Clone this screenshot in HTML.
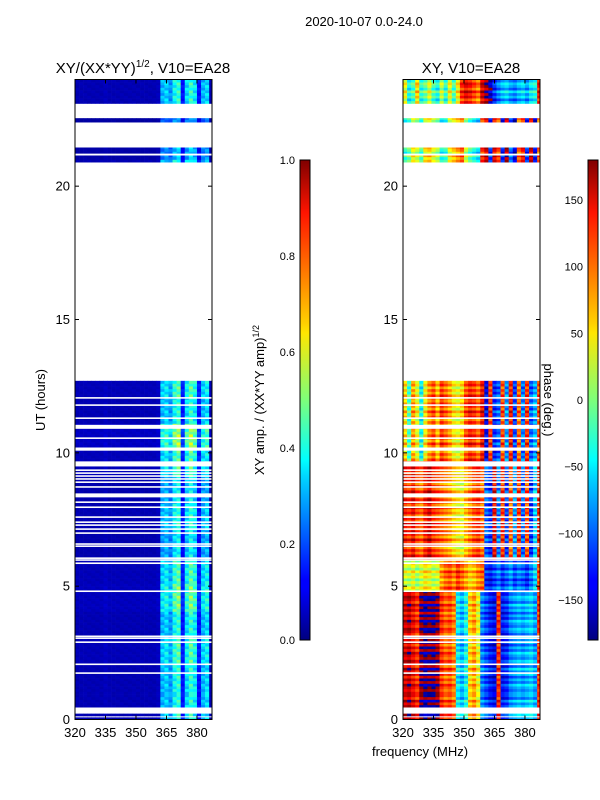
<!DOCTYPE html>
<html><head><meta charset="utf-8">
<style>
html,body{margin:0;padding:0;background:#fff;}
svg{display:block;font-family:"Liberation Sans","DejaVu Sans",sans-serif;}
</style></head>
<body>
<svg id="fig" width="600" height="800" viewBox="0 0 600 800" xmlns="http://www.w3.org/2000/svg">
<defs>
<linearGradient id="jet" x1="0" y1="1" x2="0" y2="0">
<stop offset="0" stop-color="#00007f"/><stop offset="0.11" stop-color="#0000ff"/>
<stop offset="0.125" stop-color="#0000ff"/><stop offset="0.34" stop-color="#00d5ff"/>
<stop offset="0.375" stop-color="#0ff"/><stop offset="0.5" stop-color="#7dff7a"/>
<stop offset="0.64" stop-color="#ffe600"/><stop offset="0.66" stop-color="#ffd000"/>
<stop offset="0.89" stop-color="#ff1400"/><stop offset="1" stop-color="#800000"/>
</linearGradient>
</defs>
<text x="364" y="26" font-size="13" text-anchor="middle">2020-10-07 0.0-24.0</text>
<text x="143" y="73" font-size="15" text-anchor="middle">XY/(XX*YY)<tspan font-size="10" dy="-6">1/2</tspan><tspan dy="6">, V10=EA28</tspan></text>
<text x="471" y="73" font-size="15" text-anchor="middle">XY, V10=EA28</text>
<g id="left"></g>
<g id="right"></g>
<g id="axes"></g>
<rect x="300" y="160" width="10" height="480" fill="url(#jet)" stroke="#000" stroke-width="1"/>
<rect x="588" y="160" width="10" height="480" fill="url(#jet)" stroke="#000" stroke-width="1"/>
<text transform="translate(264,400) rotate(-90)" font-size="13" text-anchor="middle">XY amp. / (XX*YY amp)<tspan font-size="9" dy="-5">1/2</tspan></text>
<text transform="translate(544,400) rotate(90)" font-size="13" text-anchor="middle">phase (deg.)</text>
<text transform="translate(45,400) rotate(-90)" font-size="13" text-anchor="middle">UT (hours)</text>
<text x="420" y="756" font-size="13" text-anchor="middle">frequency (MHz)</text>
</svg>
<script>
// ---- data ----
const freqs = [320,322,324,326,328,330,332,334,336,338,340,342,344,346,348,350,352,354,356,358,360,362,364,366,368,370,372,374,376,378,380,382,384,386];
const ampProfile = [0.05,0.05,0.05,0.05,0.05,0.05,0.05,0.06,0.05,0.05,0.05,0.05,0.05,0.05,0.05,0.05,0.05,0.05,0.05,0.05,0.06,0.3,0.33,0.27,0.38,0.42,0.14,0.34,0.42,0.36,0.14,0.3,0.34,0.05];
const hourBrightness = [1.0,1.0,1.1,1.0,1.2,1.1,0.9,1.0,0.9,1.1,1.3,1.0,1.1,1,1,1,1,1,1,1,1,0.8,0.7,1.0];
const segStart = [0.0,0.13,0.45,4.8,6.0,9.7,20.9,22.4,23.1];
const segEnd   = [0.08,0.22,4.8,6.0,9.7,12.7,21.45,22.55,24.0];
const phaseA = [150,160,140,120,175,-170,180,-175,170,120,100,110,90,-50,-70,-40,60,80,40,-90,-110,-130,-140,120,-130,-120,-90,-80,-70,-80,-70,-60,-80,120];
const phaseB = [30,20,40,10,30,50,40,20,30,80,100,110,90,120,100,80,60,70,90,100,-120,-130,-110,-90,-120,-100,-80,-110,-90,-100,-120,-90,-60,110];
const phaseC = [130,120,140,110,100,130,150,120,110,100,90,80,60,50,40,70,90,110,120,100,-100,-120,140,-90,120,-110,100,-80,120,-100,110,-120,-60,130];
const phaseD = [60,-20,80,40,-40,50,90,110,70,120,100,80,50,40,60,110,130,120,100,140,-140,120,-120,-100,110,-80,130,-110,100,-90,120,-100,-70,110];
const phaseE = [-30,-10,40,20,-20,50,60,30,10,-40,-30,40,60,80,100,20,-20,-40,-60,120,150,-120,140,110,-130,160,-100,-150,100,130,-120,150,-140,100];
const phaseF = [40,-40,-20,60,-30,-10,30,-20,-40,20,-30,40,-20,50,120,140,130,110,90,150,170,-160,-120,-90,-70,-60,-80,-90,-70,-60,-80,-50,-40,130];
const segPhase = [phaseA,phaseA,phaseA,phaseB,phaseC,phaseD,phaseE,phaseE,phaseF];
const rowShift = [0,25,-20,10,-30,15,-10,30,-25,5,20,-15];
const gapStart = [0.45,1.71,2.04,2.87,3.02,3.09,4.78,5.83,5.95,6.02,6.47,6.55,6.96,7.11,7.26,7.37,7.56,7.93,8.12,8.33,8.69,8.87,8.99,9.10,9.21,9.32,9.49,10.08,10.52,10.90,11.27,11.76,12.03,21.15];
const gapEnd   = [0.45,1.77,2.10,2.93,3.08,3.15,4.84,5.89,6.01,6.08,6.53,6.61,7.02,7.17,7.32,7.43,7.62,7.99,8.18,8.48,8.75,8.93,9.05,9.16,9.27,9.38,9.68,10.2,10.58,11.05,11.33,11.82,12.09,21.22];
const yTicks = [0,5,10,15,20];
const xTicks = [320,335,350,365,380];
const ampTicks = [0.0,0.2,0.4,0.6,0.8,1.0];
const phaseTicks = [-150,-100,-50,0,50,100,150];

// ---- scales ----
const NS='http://www.w3.org/2000/svg';
const Y0=719.5, Y1=79.5;
const yS = h => Y0 + (Y1-Y0)*h/24;
const F0=320, F1=387.4;
const xL = f => 75 + (f-F0)/(F1-F0)*137;
const xR = f => 403 + (f-F0)/(F1-F0)*137;
function jet(v){v=Math.max(0,Math.min(1,v));
 const c=x=>Math.round(255*Math.max(0,Math.min(1,x)));
 return `rgb(${c(1.5-Math.abs(4*v-3))},${c(1.5-Math.abs(4*v-2))},${c(1.5-Math.abs(4*v-1))})`;}
function mk(tag,attrs,parent){const e=document.createElementNS(NS,tag);for(const k in attrs)e.setAttribute(k,attrs[k]);parent.appendChild(e);return e;}
const gL=document.getElementById('left'), gR=document.getElementById('right'), gA=document.getElementById('axes');
const step=0.1;
for(let s=0;s<segStart.length;s++){
  for(let h=segStart[s]; h<segEnd[s]-1e-6; h+=step){
    const h2=Math.min(h+step,segEnd[s]);
    const ri=Math.round(h/step);
    const y=yS(h2), ht=yS(h)-yS(h2);
    const br=hourBrightness[Math.min(23,Math.floor(h))];
    for(let c=0;c<freqs.length;c++){
      const f0=freqs[c], f1=Math.min(freqs[c]+2,F1);
      const a=ampProfile[c]*br*(1+0.12*((ri+c)%3-1));
      const r=mk('rect',{x:xL(f0).toFixed(2),y:y.toFixed(2),width:(xL(f1)-xL(f0)+0.3).toFixed(2),height:(ht+0.3).toFixed(2),fill:jet(a)},gL);
      
      
      let p=segPhase[s][c]+rowShift[ri%rowShift.length];
      if(p>180)p-=360; if(p<-180)p+=360;
      const q=mk('rect',{x:xR(f0).toFixed(2),y:y.toFixed(2),width:(xR(f1)-xR(f0)+0.3).toFixed(2),height:(ht+0.3).toFixed(2),fill:jet((p+180)/360)},gR);
      
      
    }
  }
}
for(let i=0;i<gapStart.length;i++){
  const y=yS(gapEnd[i]), ht=Math.max(1.3,yS(gapStart[i])-yS(gapEnd[i]));
  for(const x0 of [75,403]){
    const g=mk('rect',{x:x0,y:y.toFixed(2),width:137,height:ht.toFixed(2),fill:'#fff'},x0===75?gL:gR);
    
    
  }
}
for(const x0 of [75,403]){
  const fr=mk('rect',{x:x0,y:Y1,width:137,height:Y0-Y1,fill:'none',stroke:'#000','stroke-width':1},gA);
  
  
  const xs = x0===75?xL:xR;
  for(const t of yTicks){
    const y=yS(t);
    mk('line',{x1:x0,x2:x0+4,y1:y,y2:y,stroke:'#000'},gA);
    mk('line',{x1:x0+137,x2:x0+133,y1:y,y2:y,stroke:'#000'},gA);
    const tx=mk('text',{x:x0-5,y:y+4.5,'font-size':13,'text-anchor':'end'},gA);
    tx.textContent=t;
    
    
  }
  for(const t of xTicks){
    const x=xs(t);
    mk('line',{x1:x,x2:x,y1:Y0,y2:Y0-4,stroke:'#000'},gA);
    mk('line',{x1:x,x2:x,y1:Y1,y2:Y1+4,stroke:'#000'},gA);
    const tx=mk('text',{x:x,y:737,'font-size':13,'text-anchor':'middle'},gA);
    tx.textContent=t;
    
    
  }
}
for(const t of ampTicks){
  const y=640-t*480;
  mk('line',{x1:300,x2:303,y1:y,y2:y,stroke:'#000'},gA);
  mk('line',{x1:310,x2:307,y1:y,y2:y,stroke:'#000'},gA);
  const tx=mk('text',{x:295,y:y+4,'font-size':11,'text-anchor':'end'},gA);
  tx.textContent=t.toFixed(1);
  
  
}
for(const t of phaseTicks){
  const y=400-t*480/360;
  mk('line',{x1:588,x2:591,y1:y,y2:y,stroke:'#000'},gA);
  mk('line',{x1:598,x2:595,y1:y,y2:y,stroke:'#000'},gA);
  const tx=mk('text',{x:583,y:y+4,'font-size':11,'text-anchor':'end'},gA);
  tx.textContent=t<0?'\u2212'+(-t):t;
  
  
}
</script>
</body></html>
